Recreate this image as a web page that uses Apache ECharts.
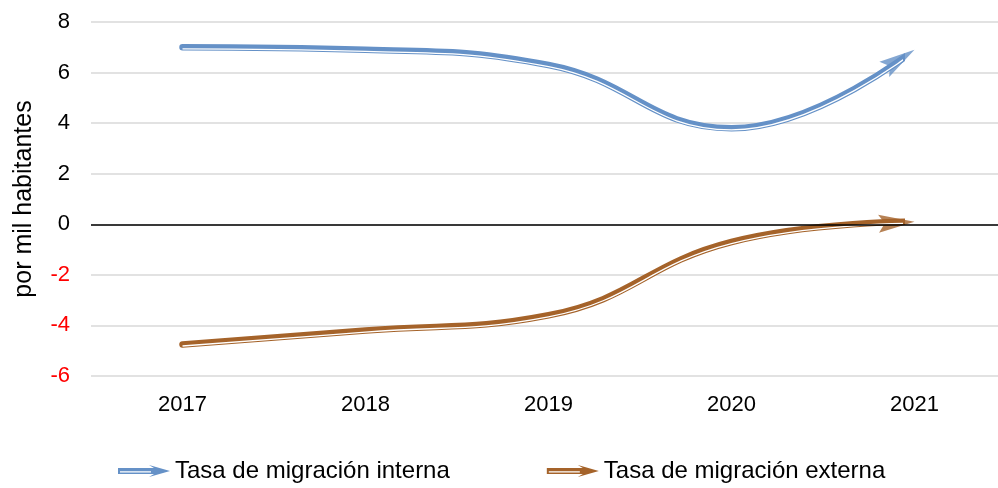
<!DOCTYPE html>
<html><head><meta charset="utf-8">
<script src="https://cdn.jsdelivr.net/npm/echarts@6/dist/echarts.min.js"></script>
<style>html,body{margin:0;padding:0;background:#fff}#c{width:998px;height:488px}</style>
</head><body><div id="c"></div>
<script>
const categories = [2017, 2018, 2019, 2020, 2021];
const interna = [7.0, 6.9, 6.3, 3.8, 6.9];
const externa = [-4.75, -4.2, -3.6, -0.7, 0.1];
const seriesNames = ['Tasa de migración interna','Tasa de migración externa'];
const yTicks = {min:-6, max:8, interval:2};
const axisTitle = 'por mil habitantes';

const blue = '#6591C7', brown = '#A5632A';
// arrowhead pointing up, tip at the centre of the symbol box
const arrowPath = 'path://M10,40 L20,80 L10,73 L0,80 Z M10,0 L10.01,0 L10,0.01 Z';
const legendIcon = 'path://M0,3 L36,3 L31,0 L52,6 L31,12 L36,9 L0,9 Z M2,6.3 L2,7.5 L33,7.5 L33,6.3 Z';
const font = 'Liberation Sans, Arial, sans-serif';
// x scale: 183 px per year, half a year before the first; plot runs past the window's right edge
const pxPerYear = 183, plotLeft = 91, fullW = 907, lineW = 810;
const xMin = 2016.5;
const xMaxFull = xMin + fullW / pxPerYear;
const xMaxLine = xMin + lineW / pxPerYear; // lines stop where the arrowheads begin

function pairs(arr){ return arr.map((v,i)=>[categories[i], v]); }
function last(arr){ return [[categories[arr.length-1], arr[arr.length-1]]]; }

const grids = [
  {left:plotLeft, width:fullW, top:22, height:354},
  {left:plotLeft, width:lineW, top:22, height:354},
  {left:plotLeft, width:lineW, top:23.6, height:354}
];
const hiddenY = (gi)=>({type:'value', gridIndex:gi, min:yTicks.min, max:yTicks.max, interval:yTicks.interval, show:false, splitLine:{show:false}});
const chart = echarts.init(document.getElementById('c'));
chart.setOption({
  animation:false,
  textStyle:{fontFamily:font},
  grid:grids,
  legend:{
    bottom:0, left:113, itemWidth:52, itemHeight:12, itemGap:97,
    textStyle:{fontSize:24, color:'#000', fontFamily:font},
    data:[{name:seriesNames[0], icon:legendIcon},{name:seriesNames[1], icon:legendIcon}]
  },
  xAxis:[
    {type:'value', gridIndex:0, min:xMin, max:xMaxFull,
     axisLine:{show:false}, axisTick:{show:false}, splitLine:{show:false},
     axisLabel:{fontSize:22, color:'#000', margin:18, fontFamily:font, customValues:categories,
       formatter:(v)=>String(v)}},
    {type:'value', gridIndex:1, min:xMin, max:xMaxLine, show:false, splitLine:{show:false}},
    {type:'value', gridIndex:2, min:xMin, max:xMaxLine, show:false, splitLine:{show:false}}
  ],
  yAxis:[
    {type:'value', gridIndex:0, min:yTicks.min, max:yTicks.max, interval:yTicks.interval,
     name:axisTitle, nameLocation:'middle', nameGap:54, nameRotate:90,
     nameTextStyle:{fontSize:25, color:'#000', fontFamily:font},
     axisLine:{show:false}, axisTick:{show:false},
     axisLabel:{fontSize:22, margin:21, fontFamily:font, color:(v)=> (v<0?'#FF0000':'#000')},
     splitLine:{lineStyle:{color:'#D9D9D9', width:1.5}}},
    hiddenY(1), hiddenY(2)
  ],
  series:[
    {name:seriesNames[0], type:'line', xAxisIndex:1, yAxisIndex:1, smooth:0.45, clip:true,
     data:pairs(interna), symbol:'none',
     lineStyle:{color:blue, width:6.5, cap:'round'}, itemStyle:{color:blue}, z:3},
    {name:seriesNames[1], type:'line', xAxisIndex:1, yAxisIndex:1, smooth:0.45, clip:true,
     data:pairs(externa), symbol:'none',
     lineStyle:{color:brown, width:6.5, cap:'round'}, itemStyle:{color:brown}, z:3},
    {type:'line', xAxisIndex:2, yAxisIndex:2, smooth:0.45, clip:true, data:pairs(interna), symbol:'none',
     lineStyle:{color:'#fff', width:1.3}, z:4, silent:true},
    {type:'line', xAxisIndex:2, yAxisIndex:2, smooth:0.45, clip:true, data:pairs(externa), symbol:'none',
     lineStyle:{color:'#fff', width:1.3}, z:4, silent:true},
    {type:'scatter', xAxisIndex:0, yAxisIndex:0, clip:false, data:last(interna),
     symbol:arrowPath, symbolSize:[18,72], symbolRotate:-57, symbolKeepAspect:false,
     itemStyle:{color:blue}, z:3, silent:true},
    {type:'scatter', xAxisIndex:0, yAxisIndex:0, clip:false, data:last(externa),
     symbol:arrowPath, symbolSize:[18,72], symbolRotate:-87, symbolKeepAspect:false,
     itemStyle:{color:brown}, z:3, silent:true},
    {type:'line', xAxisIndex:0, yAxisIndex:0, data:[], silent:true,
     markLine:{silent:true, symbol:'none', label:{show:false},
       lineStyle:{color:'#000', width:1.5, type:'solid'}, data:[{yAxis:0}]}}
  ]
});
</script></body></html>
